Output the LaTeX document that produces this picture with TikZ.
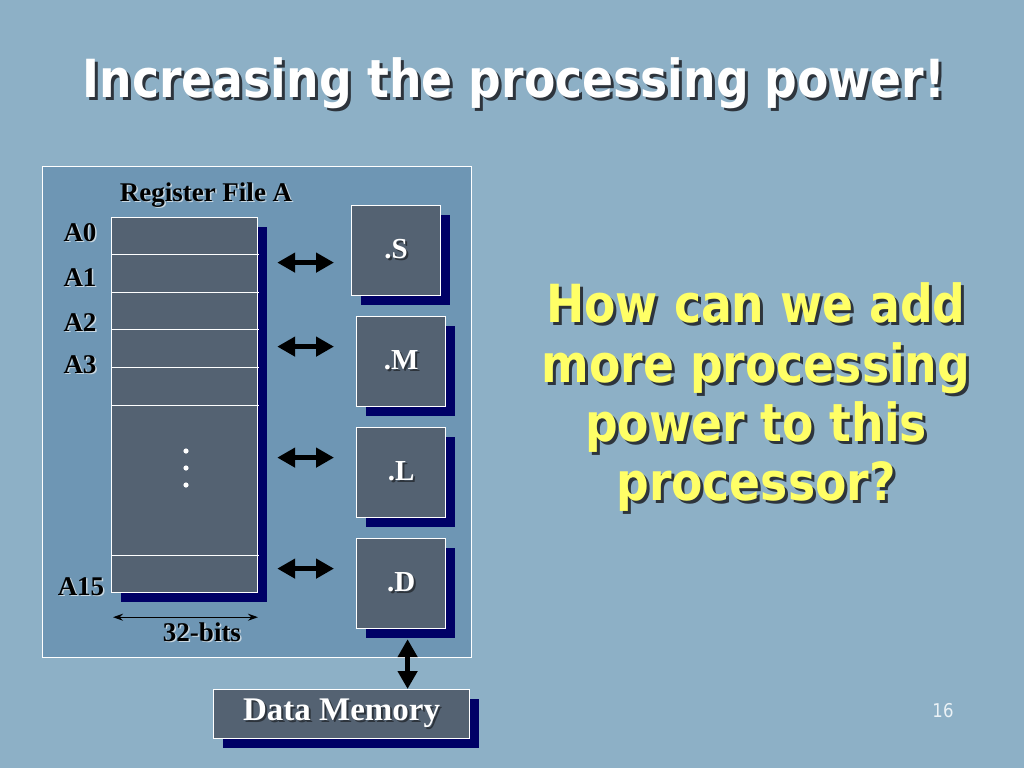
\documentclass[tikz,border=0pt]{standalone}
\usepackage{fontspec}
\setmainfont{Liberation Serif}
\newfontfamily\tah[FakeStretch=0.87]{DejaVu Sans}
\usetikzlibrary{arrows.meta,shadows}
\definecolor{bgc}{RGB}{141,176,198}
\definecolor{panelc}{RGB}{110,150,180}
\definecolor{regc}{RGB}{84,98,114}
\definecolor{navyc}{RGB}{0,0,102}
\definecolor{yelc}{RGB}{255,255,102}
\definecolor{shadc}{RGB}{45,52,60}
\definecolor{lightsh}{RGB}{200,215,225}
\definecolor{pagec}{RGB}{235,242,246}
\newcommand\shtxt[3]{\leavevmode\rlap{\kern#2\raisebox{-#2}{\color{#1}#3}}#3}
\tikzset{
  shbox/.style={draw=white, line width=1.2pt, fill=regc, inner sep=0pt, anchor=north west,
    drop shadow={shadow xshift=9pt, shadow yshift=-9pt, fill=navyc, opacity=1}},
  unitbox/.style={shbox, minimum width=89pt, minimum height=90pt, text=white,
    font=\bfseries\fontsize{29}{32}\selectfont},
  reglabel/.style={anchor=base, text=black, font=\bfseries\fontsize{27}{30}\selectfont, inner sep=0pt},
  bigq/.style={anchor=base, text=yelc, font=\tah\bfseries\fontsize{52.5}{60}\selectfont, inner sep=0pt},
  dbl/.style={line width=5pt, black, {Triangle[length=18pt,width=19pt]}-{Triangle[length=18pt,width=19pt]}},
  rowline/.style={white, line width=1pt}
}
\begin{document}
\begin{tikzpicture}[x=1pt,y=-1pt]
\fill[bgc] (0,0) rectangle (1024,768);
\useasboundingbox (0,0) rectangle (1024,768);

% title
\node[anchor=base, text=white, font=\tah\bfseries\fontsize{52.5}{60}\selectfont, inner sep=0pt] (title) at (514,97) {\shtxt{shadc}{3pt}{Increasing the processing power!}};

% panel
\node[draw=white, line width=1pt, fill=panelc, minimum width=429pt, minimum height=491pt, anchor=north west, inner sep=0pt] (panel) at (42,166) {};

\node[reglabel] (rftitle) at (206,201) {\shtxt{lightsh}{1.5pt}{Register File A}};

% register file
\node[shbox, minimum width=146pt, minimum height=375pt] (rf) at (111,217) {};
\foreach \y in {254,292,329,367,405,555} \draw[rowline] (111,\y) -- (259,\y);
\foreach \y in {451,468,485} \fill[white] (186,\y) circle (2.6pt);

\node[reglabel] (a0) at (80,241) {\shtxt{lightsh}{1.5pt}{A0}};
\node[reglabel] (a1) at (80,286) {\shtxt{lightsh}{1.5pt}{A1}};
\node[reglabel] (a2) at (80,331) {\shtxt{lightsh}{1.5pt}{A2}};
\node[reglabel] (a3) at (80,373) {\shtxt{lightsh}{1.5pt}{A3}};
\node[reglabel] (a15) at (81,595) {\shtxt{lightsh}{1.5pt}{A15}};

% width arrow
\coordinate (w1) at ([xshift=2pt,yshift=-24pt]rf.south west);
\coordinate (w2) at ([xshift=147pt,yshift=-24pt]rf.south west);
\draw[line width=1.3pt, {Stealth[length=10pt,width=7pt]}-{Stealth[length=10pt,width=7pt]}] (w1) -- (w2);
\node[reglabel] (bits) at (202,641) {\shtxt{lightsh}{1.5pt}{32-bits}};

% functional units
\node[unitbox] (S) at (351,205) {\shtxt{shadc}{2pt}{.S}};
\node[unitbox] (M) at (356,316) {\shtxt{shadc}{2pt}{.M}};
\node[unitbox] (L) at (356,427) {\shtxt{shadc}{2pt}{.L}};
\node[unitbox] (D) at (356,538) {\shtxt{shadc}{2pt}{.D}};

\coordinate (rfR) at ([xshift=19pt]rf.east);
\coordinate (eS) at ([xshift=-17pt,yshift=-12pt]S.west);
\coordinate (eM) at ([xshift=-22pt,yshift=15pt]M.west);
\coordinate (eL) at ([xshift=-22pt,yshift=15pt]L.west);
\coordinate (eD) at ([xshift=-22pt,yshift=15pt]D.west);
\draw[dbl] (rfR |- eS) -- (eS);
\draw[dbl] (rfR |- eM) -- (eM);
\draw[dbl] (rfR |- eL) -- (eL);
\draw[dbl] (rfR |- eD) -- (eD);

% data memory
\node[shbox, minimum width=256pt, minimum height=49pt, text=white, font=\bfseries\fontsize{33}{36}\selectfont] (dm) at (213,689) {\shtxt{shadc}{2pt}{Data Memory}};
\coordinate (v1) at ([xshift=6.5pt,yshift=-10pt]D.south);
\draw[dbl] (v1) -- (v1 |- dm.north);

% question
\node[bigq] (q1) at (756,322) {\shtxt{shadc}{3pt}{How can we add}};
\node[bigq] (q2) at (756,382) {\shtxt{shadc}{3pt}{more processing}};
\node[bigq] (q3) at (756,441) {\shtxt{shadc}{3pt}{power to this}};
\node[bigq] (q4) at (756,500) {\shtxt{shadc}{3pt}{processor?}};

\node[anchor=base, text=pagec, font=\tah\fontsize{19}{22}\selectfont, inner sep=0pt] (pg) at (943,717) {16};
\end{tikzpicture}
\end{document}
